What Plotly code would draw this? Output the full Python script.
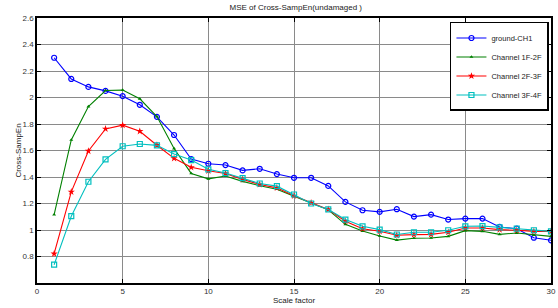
import plotly.graph_objects as go

scale = list(range(1, 31))

ground_ch1 = [2.30, 2.14, 2.08, 2.05, 2.01, 1.945, 1.854, 1.717, 1.536, 1.50,
              1.49, 1.45, 1.462, 1.422, 1.394, 1.394, 1.333, 1.212, 1.149, 1.137,
              1.157, 1.101, 1.116, 1.079, 1.086, 1.086, 1.023, 1.01, 0.942, 0.922]
ch_1f_2f = [1.116, 1.68, 1.932, 2.053, 2.056, 1.99, 1.856, 1.615, 1.427, 1.386,
            1.407, 1.367, 1.334, 1.308, 1.255, 1.205, 1.152, 1.043, 0.992, 0.955,
            0.924, 0.938, 0.94, 0.952, 0.995, 0.99, 0.967, 0.977, 0.962, 0.952]
ch_2f_3f = [0.821, 1.288, 1.596, 1.763, 1.791, 1.745, 1.64, 1.541, 1.473, 1.447,
            1.427, 1.382, 1.344, 1.318, 1.258, 1.205, 1.155, 1.066, 1.01, 0.99,
            0.96, 0.965, 0.967, 0.983, 1.015, 1.015, 1.003, 0.998, 0.99, 0.99]
ch_3f_4f = [0.738, 1.104, 1.364, 1.533, 1.632, 1.649, 1.639, 1.573, 1.528, 1.458,
            1.43, 1.392, 1.351, 1.331, 1.268, 1.2, 1.155, 1.079, 1.028, 1.003,
            0.966, 0.983, 0.983, 0.998, 1.028, 1.03, 1.02, 1.01, 0.998, 0.99]

series = [
    ("ground-CH1", ground_ch1, "#0000FF", dict(symbol="circle-open", size=5, line=dict(width=1.2))),
    ("Channel 1F-2F", ch_1f_2f, "#008000", dict(symbol="triangle-up", size=3.5)),
    ("Channel 2F-3F", ch_2f_3f, "#FF0000", dict(symbol="star", size=5.5)),
    ("Channel 3F-4F", ch_3f_4f, "#00BFBF", dict(symbol="square-open", size=5, line=dict(width=1.2))),
]

fig = go.Figure()
for name, vals, color, mk in series:
    m = dict(color=color, **mk)
    fig.add_trace(go.Scatter(x=scale, y=vals, name=name, mode="lines+markers",
                             line=dict(color=color, width=1.1), marker=m))

axis_common = dict(
    showline=True, linecolor="black", linewidth=1.5, mirror="ticks",
    ticks="inside", ticklen=4, tickcolor="black",
    showgrid=True, gridcolor="#8a8a8a", gridwidth=1,
    zeroline=False, tickfont=dict(size=8, color="#333333"),
    automargin=False,
)

fig.update_layout(
    width=558, height=308,
    margin=dict(l=37, r=7, t=18, b=25),
    paper_bgcolor="white", plot_bgcolor="white",
    font=dict(family="Liberation Sans, Arial, sans-serif", size=8, color="#222222"),
    title=dict(text="MSE of Cross-SampEn(undamaged )", x=0.53, xanchor="center",
               y=0.985, yanchor="top", font=dict(size=8)),
    xaxis=dict(range=[0, 30], tickvals=[0, 5, 10, 15, 20, 25, 30],
               title=dict(text="Scale factor", standoff=0, font=dict(size=8)), **axis_common),
    yaxis=dict(range=[0.6, 2.6], tickvals=[0.8, 1.0, 1.2, 1.4, 1.6, 1.8, 2.0, 2.2, 2.4, 2.6],
               ticktext=["0.8", "1", "1.2", "1.4", "1.6", "1.8", "2", "2.2", "2.4", "2.6"],
               title=dict(text="Cross-SampEn", standoff=0, font=dict(size=8)), **axis_common),
    legend=dict(x=0.996, y=0.985, xanchor="right", yanchor="top",
                bgcolor="white", bordercolor="black", borderwidth=1.5,
                font=dict(size=7.5, color="#222222")),
    showlegend=True,
)

fig.write_html("out.html", config={"displayModeBar": False},
               post_script="document.body.style.margin='0px';")
